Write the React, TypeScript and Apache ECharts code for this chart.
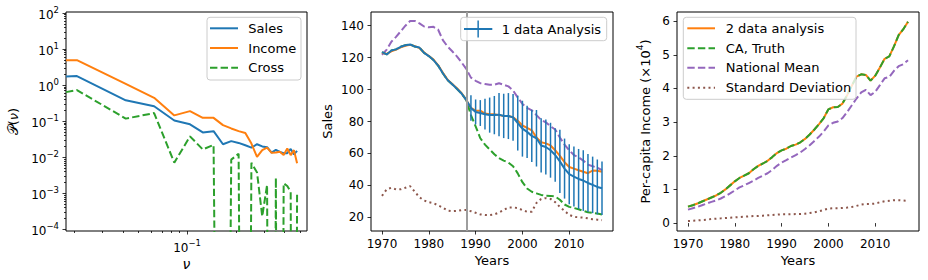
import React, { useEffect, useRef } from "react";
import * as echarts from "echarts";

const FONT = "DejaVu Sans";
const C = { blue: "#1f77b4", orange: "#ff7f0e", green: "#2ca02c", purple: "#9467bd", brown: "#8c564b" };

// ---------- left panel: spectra ----------
const freqs = [0.0178, 0.0208, 0.0417, 0.0625, 0.0833, 0.1042, 0.125, 0.1458, 0.1667, 0.1875, 0.2083, 0.2292, 0.25, 0.2708, 0.2917, 0.3125, 0.3333, 0.3542, 0.375, 0.3958, 0.4167, 0.4375, 0.4583, 0.4792];
const powerSales = [1.75, 1.78, 0.38, 0.26, 0.105, 0.082, 0.049, 0.053, 0.023, 0.028, 0.025, 0.0215, 0.0185, 0.023, 0.02, 0.019, 0.0135, 0.016, 0.014, 0.013, 0.013, 0.017, 0.012, 0.015];
const powerIncome = [4.93, 4.93, 1.08, 0.445, 0.145, 0.19, 0.124, 0.124, 0.078, 0.063, 0.053, 0.047, 0.024, 0.0102, 0.0158, 0.0185, 0.0133, 0.0136, 0.0142, 0.0115, 0.0175, 0.0115, 0.0158, 0.0068];
const powerCross = [0.64, 0.73, 0.118, 0.168, 0.0071, 0.038, 0.0165, 0.022, -0.01, 0.0086, 0.0125, -0.005, 0.007, 0.0038, 0.00023, 0.0017, -0.002, 0.0027, -0.001, 0.0019, 0.0016, 0.0011, -0.001, 0.00095];
const logYMajor = [1e-4, 1e-3, 1e-2, 1e-1, 1, 10, 100];
const logXMajor = [0.1];
const minorMult = [2, 3, 4, 5, 6, 7, 8, 9];

// ---------- middle panel: sales ----------
const years = [1970, 1971, 1972, 1973, 1974, 1975, 1976, 1977, 1978, 1979, 1980, 1981, 1982, 1983, 1984, 1985, 1986, 1987, 1988, 1989, 1990, 1991, 1992, 1993, 1994, 1995, 1996, 1997, 1998, 1999, 2000, 2001, 2002, 2003, 2004, 2005, 2006, 2007, 2008, 2009, 2010, 2011, 2012, 2013, 2014, 2015, 2016, 2017];
const salesAnalysis = [123.5, 122, 124.5, 125.2, 126.8, 127.8, 128.3, 127, 126.3, 123, 121, 118.5, 115, 110.2, 106, 103.3, 100.5, 97.5, 93.5, 88.5, 86, 85.3, 84.6, 84, 84, 84.3, 83.5, 83.4, 82.6, 79, 75.5, 73.5, 71, 69.5, 65, 64, 62, 59, 55, 50.5, 47, 45.5, 44, 43, 41.5, 40.3, 39, 38.2];
const salesErr = [0, 0, 0, 0, 0, 0, 0, 0, 0, 0, 0, 0, 0, 0, 0, 0, 0, 0, 0, 8.0, 7.8, 8.1, 9.6, 11.0, 12.0, 13.6, 13.9, 14.4, 14.6, 17.2, 17.5, 16.4, 16.4, 17.7, 17.0, 17.2, 17.2, 16.7, 19.8, 18.8, 18.8, 18.8, 18.8, 19.0, 18.2, 17.7, 17.2, 16.7];
const salesTwoData = [123, 122.3, 124, 125, 126.5, 127.5, 128, 127.2, 126, 123.2, 121, 118.8, 115.2, 110.5, 106.2, 103.5, 100.8, 97.8, 93.5, 88.5, 86.8, 86.8, 85, 84.6, 84.5, 84, 83.5, 83.5, 82.7, 80.5, 77.5, 76, 74.5, 70, 67, 66.3, 65, 62, 58.5, 54.5, 51.5, 50.5, 49.5, 48.5, 47.6, 49.3, 49.2, 48.5];
const salesTruth = [123.5, 122, 124.5, 125.2, 126.8, 127.8, 128.3, 127, 126.3, 123, 121, 118.5, 115, 110.2, 106, 103.3, 100.5, 97.5, 93.5, 84, 77, 69.5, 65.5, 62.5, 59.5, 57, 55.5, 54.3, 52, 47.5, 42, 38, 36, 35, 34, 33.5, 33.4, 33, 31, 28, 26.5, 25.8, 25, 24, 23.2, 22.7, 22.4, 21.7];
const salesNational = [121.8, 125, 130, 133, 136.5, 140, 143, 143, 141.5, 139.5, 139, 139.3, 137.5, 131, 127, 124, 120.8, 117, 113, 107.5, 105.5, 104, 103.5, 103, 103, 104, 103, 102, 99.5, 95, 91, 88.5, 87, 84, 81, 79.5, 77, 75, 70, 65.5, 62, 59, 57.5, 55.5, 53, 52, 51, 49.5];
const salesStd = [33.4, 37.5, 38.5, 37.5, 37.5, 38.5, 39.5, 36, 32.5, 30.5, 29.5, 28.8, 27.5, 26, 24.2, 23.8, 24, 24.5, 24.6, 23.8, 22.8, 21.8, 21.4, 21.4, 21.8, 23, 24.5, 26.2, 26.2, 25.8, 24.5, 23.5, 23.5, 29, 31.5, 32, 31.5, 29.5, 26.5, 24, 21.5, 20.3, 20, 19.8, 19.3, 18.8, 18.5, 18.2];
const cutoffYear = 1988;
const yearTicks = [1970, 1980, 1990, 2000, 2010];
const salesTicks = [20, 40, 60, 80, 100, 120, 140];

// ---------- right panel: income (x 10^4) ----------
const incomeAnalysis = [0.49, 0.53, 0.58, 0.64, 0.7, 0.76, 0.82, 0.9, 1.0, 1.12, 1.24, 1.34, 1.41, 1.48, 1.6, 1.7, 1.77, 1.85, 1.96, 2.08, 2.16, 2.21, 2.29, 2.33, 2.4, 2.5, 2.63, 2.78, 2.94, 3.12, 3.38, 3.44, 3.45, 3.55, 3.8, 4.08, 4.35, 4.42, 4.4, 4.23, 4.38, 4.62, 4.88, 4.95, 5.25, 5.58, 5.76, 5.98];
const incomeTruth = [0.49, 0.53, 0.58, 0.64, 0.7, 0.76, 0.82, 0.9, 1.0, 1.12, 1.24, 1.34, 1.41, 1.48, 1.6, 1.7, 1.77, 1.85, 1.96, 2.08, 2.16, 2.21, 2.29, 2.33, 2.4, 2.5, 2.63, 2.78, 2.94, 3.12, 3.38, 3.44, 3.45, 3.55, 3.8, 4.08, 4.35, 4.42, 4.4, 4.23, 4.38, 4.62, 4.88, 4.95, 5.25, 5.58, 5.76, 5.98];
const incomeNational = [0.4, 0.44, 0.48, 0.53, 0.58, 0.63, 0.67, 0.73, 0.8, 0.88, 0.97, 1.06, 1.12, 1.19, 1.26, 1.34, 1.41, 1.48, 1.58, 1.7, 1.8, 1.87, 1.95, 2.02, 2.1, 2.2, 2.31, 2.44, 2.57, 2.72, 2.9, 2.98, 3.02, 3.12, 3.3, 3.5, 3.7, 3.88, 3.96, 3.8, 3.9, 4.1, 4.3, 4.34, 4.52, 4.66, 4.72, 4.84];
const incomeStd = [0.06, 0.07, 0.08, 0.09, 0.1, 0.12, 0.13, 0.14, 0.15, 0.16, 0.17, 0.18, 0.19, 0.2, 0.21, 0.21, 0.22, 0.23, 0.24, 0.25, 0.26, 0.26, 0.26, 0.27, 0.27, 0.28, 0.3, 0.32, 0.35, 0.39, 0.43, 0.44, 0.44, 0.45, 0.46, 0.48, 0.51, 0.55, 0.57, 0.57, 0.58, 0.62, 0.65, 0.66, 0.68, 0.68, 0.67, 0.66];
const incomeTicks = [0, 1, 2, 3, 4, 5, 6];

// ---------- helpers ----------
const pair = (xs: number[], ys: number[]) => xs.map((x, i) => [x, ys[i]]);
const clipPositive = (v: number) => (v > 0 ? v : 1e-30); // log axis: non-positive values clipped
const minorOf = (majors: number[]) => {
  const out: number[] = [];
  majors.forEach((d) => minorMult.forEach((m) => out.push(d * m)));
  return out;
};
const supLabel = (v: number) => {
  const e = Math.round(Math.log10(v));
  return `{b|10}{s|${e < 0 ? "\u2212" : ""}${Math.abs(e)}}`;
};
const supRich = {
  b: { fontSize: 12, fontFamily: FONT, color: "#000", verticalAlign: "bottom", lineHeight: 16 },
  s: { fontSize: 8.5, fontFamily: FONT, color: "#000", verticalAlign: "top", lineHeight: 16 },
};
const tickLine = { color: "#000", width: 0.8 };
const labelBase = { color: "#000", fontSize: 12, fontFamily: FONT, margin: 7 };
const nameStyle = { color: "#000", fontSize: 13, fontFamily: FONT };
const DASH = [7.4, 3.2];
const DOT = [2, 3.3];

const lineSeries = (name: string, xi: number, yi: number, data: any[], color: string, dash?: number[], z = 2) => ({
  name,
  type: "line",
  xAxisIndex: xi,
  yAxisIndex: yi,
  data,
  showSymbol: false,
  symbol: "none",
  clip: true,
  z,
  lineStyle: { color, width: 2, type: dash ? dash : "solid", cap: "butt" },
  emphasis: { disabled: true },
});

function legend(box: number[], rows: number[], hx: number[], tx: number, items: any[]) {
  const els: any[] = [
    {
      type: "rect",
      z: 100,
      shape: { x: box[0], y: box[1], width: box[2], height: box[3], r: 3 },
      style: { fill: "rgba(255,255,255,0.8)", stroke: "#cccccc", lineWidth: 1 },
    },
  ];
  items.forEach((it, i) => {
    const y = rows[i];
    els.push({
      type: "line",
      z: 101,
      shape: { x1: hx[0], y1: y, x2: hx[1], y2: y },
      style: { stroke: it.color, lineWidth: 2, lineDash: it.dash || null },
    });
    if (it.err) {
      const cx = (hx[0] + hx[1]) / 2;
      els.push({
        type: "line",
        z: 101,
        shape: { x1: cx, y1: y - 8.5, x2: cx, y2: y + 8.5 },
        style: { stroke: it.color, lineWidth: 1.5 },
      });
    }
    els.push({
      type: "text",
      z: 101,
      x: tx,
      y,
      style: { text: it.label, fontSize: 13, fontFamily: FONT, fill: "#000", verticalAlign: "middle", align: "left" },
    });
  });
  return els;
}

function buildOption() {
  const gridBase = { top: 12, height: 219, show: true, borderColor: "#000", borderWidth: 1, backgroundColor: "#fff", containLabel: false, outerBoundsMode: "none" };
  const yearAxis = (gi: number) => ({
    gridIndex: gi,
    type: "value",
    min: 1967.65,
    max: 2019.35,
    position: "bottom",
    axisLine: { show: false },
    splitLine: { show: false },
    axisTick: { show: true, length: 3.5, lineStyle: tickLine, customValues: yearTicks },
    axisLabel: { ...labelBase, customValues: yearTicks, formatter: (v: number) => String(v) },
    name: "Years",
    nameLocation: "middle",
    nameGap: 23,
    nameMoveOverlap: false,
    nameTextStyle: nameStyle,
  });

  return {
    animation: false,
    textStyle: { fontFamily: FONT },
    grid: [
      { ...gridBase, left: 66, width: 241 },
      { ...gridBase, left: 371, width: 242 },
      { ...gridBase, left: 677, width: 242 },
    ],
    xAxis: [
      {
        gridIndex: 0,
        type: "log",
        logBase: 10,
        min: 0.0178,
        max: 0.552,
        position: "bottom",
        axisLine: { show: false },
        splitLine: { show: false },
        axisTick: { show: true, length: 3.5, lineStyle: tickLine, customValues: logXMajor },
        axisLabel: { ...labelBase, customValues: logXMajor, formatter: supLabel, rich: supRich },
        name: "ν",
        nameLocation: "middle",
        nameGap: 26,
        nameMoveOverlap: false,
        nameTextStyle: { ...nameStyle, fontSize: 14, fontStyle: "italic" },
      },
      {
        gridIndex: 0,
        type: "log",
        logBase: 10,
        min: 0.0178,
        max: 0.552,
        position: "bottom",
        axisLine: { show: false },
        splitLine: { show: false },
        axisTick: { show: true, length: 2, lineStyle: tickLine, customValues: minorOf([0.01, 0.1]) },
        axisLabel: { show: false },
      },
      yearAxis(1),
      yearAxis(2),
    ],
    yAxis: [
      {
        gridIndex: 0,
        type: "log",
        logBase: 10,
        min: 9.03e-5,
        max: 106.7,
        position: "left",
        axisLine: { show: false },
        splitLine: { show: false },
        axisTick: { show: true, length: 3.5, lineStyle: tickLine, customValues: logYMajor },
        axisLabel: { ...labelBase, customValues: logYMajor, formatter: supLabel, rich: supRich },
        name: "{p|𝒫}{n|(}{i|ν}{n|)}",
        nameLocation: "middle",
        nameGap: 46,
        nameMoveOverlap: false,
        nameTextStyle: {
          ...nameStyle,
          rich: {
            p: { fontSize: 14, fontFamily: FONT, color: "#000" },
            n: { fontSize: 13, fontFamily: FONT, color: "#000" },
            i: { fontSize: 13, fontFamily: FONT, color: "#000", fontStyle: "italic" },
          },
        },
      },
      {
        gridIndex: 0,
        type: "log",
        logBase: 10,
        min: 9.03e-5,
        max: 106.7,
        position: "left",
        axisLine: { show: false },
        splitLine: { show: false },
        axisTick: { show: true, length: 2, lineStyle: tickLine, customValues: minorOf(logYMajor.slice(0, 6)) },
        axisLabel: { show: false },
      },
      {
        gridIndex: 1,
        type: "value",
        min: 11.4,
        max: 148.6,
        position: "left",
        axisLine: { show: false },
        splitLine: { show: false },
        axisTick: { show: true, length: 3.5, lineStyle: tickLine, customValues: salesTicks },
        axisLabel: { ...labelBase, customValues: salesTicks, formatter: (v: number) => String(v) },
        name: "Sales",
        nameLocation: "middle",
        nameGap: 37,
        nameMoveOverlap: false,
        nameTextStyle: nameStyle,
      },
      {
        gridIndex: 2,
        type: "value",
        min: -0.235,
        max: 6.27,
        position: "left",
        axisLine: { show: false },
        splitLine: { show: false },
        axisTick: { show: true, length: 3.5, lineStyle: tickLine, customValues: incomeTicks },
        axisLabel: { ...labelBase, customValues: incomeTicks, formatter: (v: number) => String(v) },
        name: "{n|Per-capita Income (×10}{s|4}{n|)}",
        nameLocation: "middle",
        nameGap: 25,
        nameMoveOverlap: false,
        nameTextStyle: {
          ...nameStyle,
          rich: {
            n: { fontSize: 13, fontFamily: FONT, color: "#000", verticalAlign: "bottom", lineHeight: 17 },
            s: { fontSize: 9, fontFamily: FONT, color: "#000", verticalAlign: "top", lineHeight: 17 },
          },
        },
      },
    ],
    series: [
      // left
      lineSeries("Sales", 0, 0, pair(freqs, powerSales), C.blue),
      lineSeries("Income", 0, 0, pair(freqs, powerIncome), C.orange),
      lineSeries("Cross", 0, 0, pair(freqs, powerCross.map(clipPositive)), C.green, DASH),
      // middle
      lineSeries("National Mean", 2, 2, pair(years, salesNational), C.purple, DASH),
      lineSeries("Standard Deviation", 2, 2, pair(years, salesStd), C.brown, DOT),
      lineSeries("CA, Truth", 2, 2, pair(years, salesTruth), C.green, DASH),
      lineSeries("2 data analysis", 2, 2, pair(years, salesTwoData), C.orange),
      lineSeries("1 data Analysis", 2, 2, pair(years, salesAnalysis), C.blue),
      {
        name: "1 data Analysis errors",
        type: "custom",
        xAxisIndex: 2,
        yAxisIndex: 2,
        z: 3,
        data: years.map((y, i) => [y, salesAnalysis[i], salesErr[i]]),
        encode: { x: 0, y: 1 },
        renderItem: (params: any, api: any) => {
          const x = api.value(0);
          const v = api.value(1);
          const e = api.value(2);
          if (!(e > 0)) return null;
          const p1 = api.coord([x, v + e]);
          const p2 = api.coord([x, v - e]);
          return {
            type: "line",
            shape: { x1: p1[0], y1: p1[1], x2: p2[0], y2: p2[1] },
            style: { stroke: C.blue, lineWidth: 1.5 },
          };
        },
        markLine: {
          silent: true,
          symbol: ["none", "none"],
          label: { show: false },
          lineStyle: { color: "#9e9e9e", width: 2, type: "solid" },
          data: [{ xAxis: cutoffYear }],
          z: 5,
        },
      },
      // right
      lineSeries("2 data analysis", 3, 3, pair(years, incomeAnalysis), C.orange),
      lineSeries("CA, Truth", 3, 3, pair(years, incomeTruth), C.green, DASH),
      lineSeries("National Mean", 3, 3, pair(years, incomeNational), C.purple, DASH),
      lineSeries("Standard Deviation", 3, 3, pair(years, incomeStd), C.brown, DOT),
    ],
    graphic: [
      ...legend([207, 17.3, 94, 62.7], [28.3, 48, 67.7], [210, 238], 248.3, [
        { label: "Sales", color: C.blue },
        { label: "Income", color: C.orange },
        { label: "Cross", color: C.green, dash: DASH },
      ]),
      ...legend([460.7, 17.3, 146, 23.4], [29], [464, 492.3], 501.7, [
        { label: "1 data Analysis", color: C.blue, err: true },
      ]),
      ...legend([683.3, 17.3, 172.7, 82], [28.3, 48.3, 67.7, 87.7], [687.3, 715], 725.7, [
        { label: "2 data analysis", color: C.orange },
        { label: "CA, Truth", color: C.green, dash: DASH },
        { label: "National Mean", color: C.purple, dash: DASH },
        { label: "Standard Deviation", color: C.brown, dash: DOT },
      ]),
    ],
  };
}

export default function App() {
  const ref = useRef<HTMLDivElement>(null);
  useEffect(() => {
    const chart = echarts.init(ref.current as HTMLDivElement, undefined, { renderer: "svg" });
    chart.setOption(buildOption() as any);
    return () => chart.dispose();
  }, []);
  return (
    <div
      ref={ref}
      style={{ position: "fixed", left: 0, top: 0, width: 928, height: 280, background: "#fff" }}
    />
  );
}
